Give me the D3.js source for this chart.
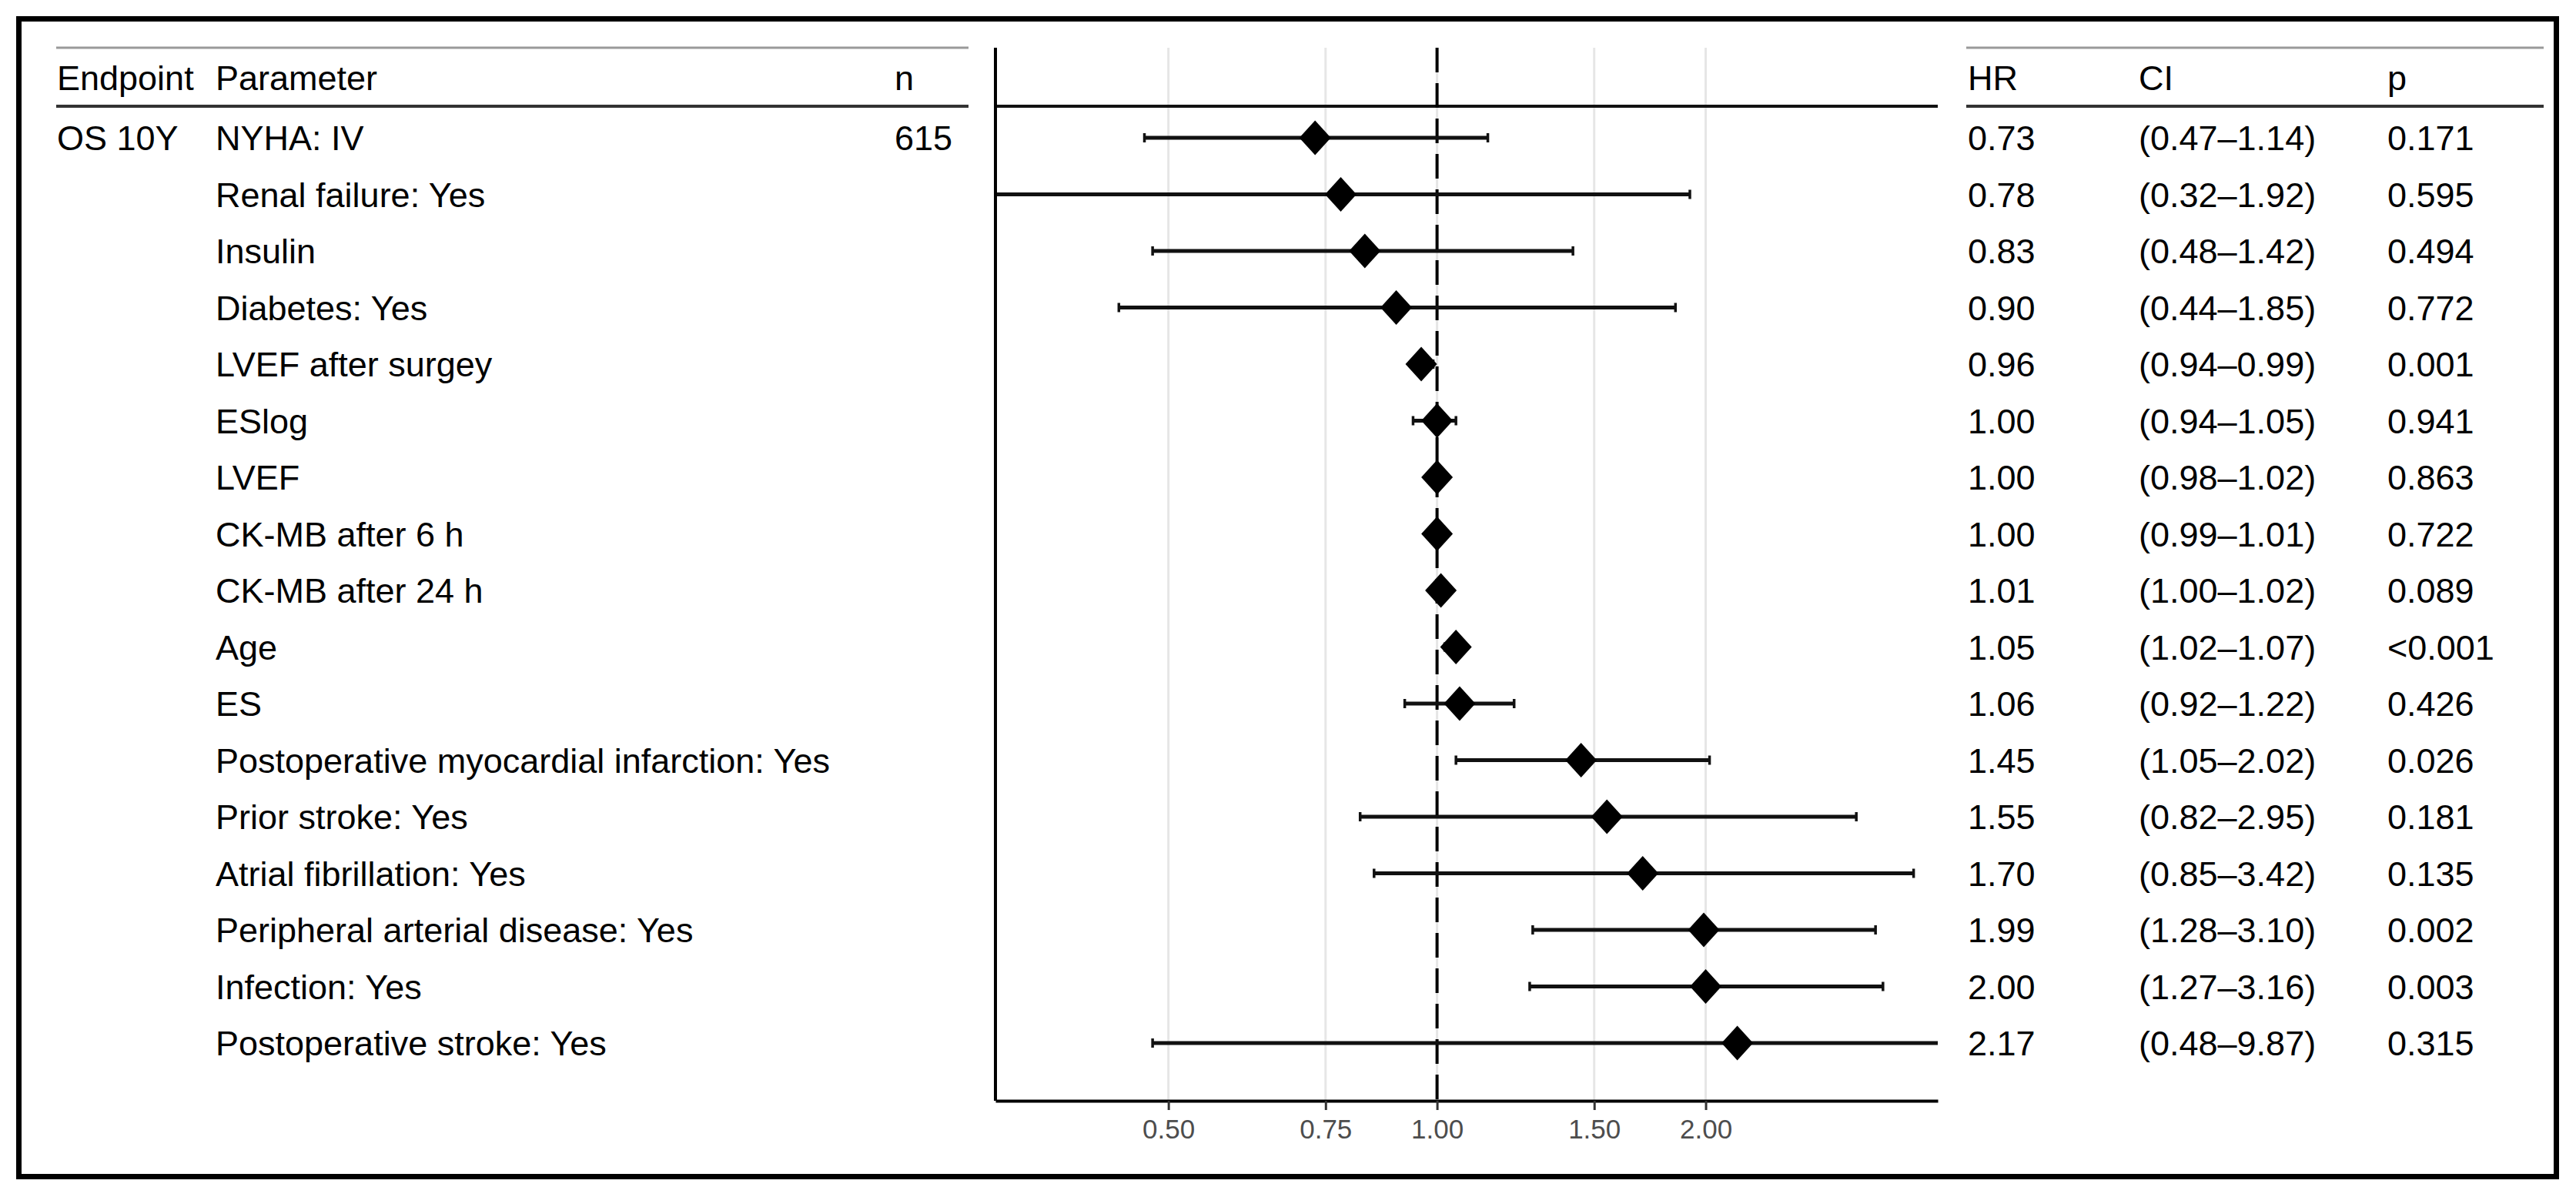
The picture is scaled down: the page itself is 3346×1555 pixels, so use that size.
<!DOCTYPE html>
<html>
<head>
<meta charset="utf-8">
<script src="https://cdnjs.cloudflare.com/ajax/libs/d3/7.8.5/d3.min.js"></script>
<style>
    body { margin: 0; background: #fff; }
    svg text { font-family: "Liberation Sans", Arial, sans-serif; }
</style>
</head>
<body>
<div id="chart"></div>
<script>
    // values
    const endpoints = ["OS 10Y"];
    const nValues = ["615"];
    const params = ["NYHA: IV", "Renal failure: Yes", "Insulin", "Diabetes: Yes", "LVEF after surgey", "ESlog", "LVEF",
        "CK-MB after 6 h", "CK-MB after 24 h", "Age", "ES", "Postoperative myocardial infarction: Yes", "Prior stroke: Yes",
        "Atrial fibrillation: Yes", "Peripheral arterial disease: Yes", "Infection: Yes", "Postoperative stroke: Yes"];
    const hr = [0.73, 0.78, 0.83, 0.90, 0.96, 1.00, 1.00, 1.00, 1.01, 1.05, 1.06, 1.45, 1.55, 1.70, 1.99, 2.00, 2.17];
    const ciLow = [0.47, 0.32, 0.48, 0.44, 0.94, 0.94, 0.98, 0.99, 1.00, 1.02, 0.92, 1.05, 0.82, 0.85, 1.28, 1.27, 0.48];
    const ciHigh = [1.14, 1.92, 1.42, 1.85, 0.99, 1.05, 1.02, 1.01, 1.02, 1.07, 1.22, 2.02, 2.95, 3.42, 3.10, 3.16, 9.87];
    const pValues = ["0.171", "0.595", "0.494", "0.772", "0.001", "0.941", "0.863", "0.722", "0.089", "<0.001", "0.426",
        "0.026", "0.181", "0.135", "0.002", "0.003", "0.315"];
    const xTicks = [0.5, 0.75, 1, 1.5, 2];
    const xLimits = [0.32, 3.64];

    const W = 3346, H = 1555;
    const plotL = 1293, plotR = 2517, plotT = 62, plotB = 1430;
    const headTop = 62, headBot = 138;
    const fs = 45;

    const rows = params.map((p, i) => ({
        param: p, hr: hr[i], lo: ciLow[i], hi: ciHigh[i], p: pValues[i],
        endpoint: endpoints[i] || "", n: nValues[i] || ""
    }));

    const svg = d3.select("#chart").append("svg")
        .attr("width", W).attr("height", H)
        .style("display", "block");

    const x = d3.scaleLog().domain(xLimits).range([plotL, plotR]);
    const y = d3.scalePoint().domain(params).range([179, 1355]);

    // frame round the whole figure
    svg.append("rect")
        .attr("x", 24.5).attr("y", 24.5).attr("width", 3296).attr("height", 1504)
        .attr("fill", "none").attr("stroke", "#000").attr("stroke-width", 7);

    // table rules (left and right tables)
    const tables = [[73, 1258], [2554, 3304]];
    tables.forEach(t => {
        svg.append("line").attr("x1", t[0]).attr("x2", t[1]).attr("y1", headTop).attr("y2", headTop)
            .attr("stroke", "#9a9a9a").attr("stroke-width", 3);
        svg.append("line").attr("x1", t[0]).attr("x2", t[1]).attr("y1", headBot).attr("y2", headBot)
            .attr("stroke", "#333").attr("stroke-width", 4);
    });

    // column headers
    const headers = [["Endpoint", 74], ["Parameter", 280], ["n", 1162], ["HR", 2556], ["CI", 2778], ["p", 3101]];
    svg.selectAll("text.head").data(headers).enter()
        .append("text").attr("class", "head")
        .attr("x", h => h[1]).attr("y", 117)
        .attr("font-size", fs).attr("fill", "#000")
        .text(h => h[0]);

    // table cells
    const cols = [
        [74, d => d.endpoint],
        [280, d => d.param],
        [1162, d => d.n],
        [2556, d => d.hr.toFixed(2)],
        [2778, d => "(" + d.lo.toFixed(2) + "\u2013" + d.hi.toFixed(2) + ")"],
        [3101, d => d.p]
    ];
    cols.forEach(c => {
        svg.append("g").selectAll("text").data(rows).enter()
            .append("text")
            .attr("x", c[0]).attr("y", d => y(d.param) + 16)
            .attr("font-size", fs).attr("fill", "#000")
            .text(c[1]);
    });

    // plot panel
    const plot = svg.append("g");
    svg.append("clipPath").attr("id", "clip")
        .append("rect").attr("x", plotL).attr("y", plotT).attr("width", plotR - plotL).attr("height", plotB - plotT);

    plot.selectAll("line.grid").data(xTicks).enter()
        .append("line").attr("class", "grid")
        .attr("x1", d => x(d)).attr("x2", d => x(d)).attr("y1", plotT).attr("y2", plotB)
        .attr("stroke", "#e6e6e6").attr("stroke-width", 3);

    // header rule crosses the plot too
    plot.append("line").attr("x1", plotL).attr("x2", plotR).attr("y1", headBot).attr("y2", headBot)
        .attr("stroke", "#111").attr("stroke-width", 4);

    plot.append("line")
        .attr("x1", x(1)).attr("x2", x(1)).attr("y1", plotT).attr("y2", plotB)
        .attr("stroke", "#000").attr("stroke-width", 4).attr("stroke-dasharray", "32,14");

    const ci = plot.append("g").attr("clip-path", "url(#clip)");
    ci.selectAll("line.ci").data(rows).enter()
        .append("line").attr("class", "ci")
        .attr("x1", d => x(d.lo)).attr("x2", d => x(d.hi))
        .attr("y1", d => y(d.param)).attr("y2", d => y(d.param))
        .attr("stroke", "#111").attr("stroke-width", 5);
    ["lo", "hi"].forEach(k => {
        ci.selectAll("line.cap-" + k).data(rows).enter()
            .append("line").attr("class", "cap-" + k)
            .attr("x1", d => x(d[k])).attr("x2", d => x(d[k]))
            .attr("y1", d => y(d.param) - 6).attr("y2", d => y(d.param) + 6)
            .attr("stroke", "#111").attr("stroke-width", 3.5);
    });

    plot.selectAll("path.pt").data(rows).enter()
        .append("path").attr("class", "pt")
        .attr("d", "M0,-22.5L20.5,0L0,22.5L-20.5,0Z")
        .attr("transform", d => `translate(${x(d.hr)},${y(d.param)})`)
        .attr("fill", "#000");

    // axes
    plot.append("line").attr("x1", plotL).attr("x2", plotL).attr("y1", plotT).attr("y2", plotB)
        .attr("stroke", "#000").attr("stroke-width", 4);

    const xAxis = plot.append("g")
        .attr("transform", `translate(0,${plotB})`)
        .call(d3.axisBottom(x).tickValues(xTicks).tickFormat(d3.format(".2f")).tickSize(12).tickSizeOuter(0).tickPadding(12));
    xAxis.select(".domain").attr("stroke", "#000").attr("stroke-width", 4);
    xAxis.selectAll(".tick line").attr("stroke", "#333").attr("stroke-width", 3);
    xAxis.selectAll(".tick text")
        .attr("font-family", "Liberation Sans, Arial, sans-serif")
        .attr("font-size", 35).attr("fill", "#4d4d4d");
</script>
</body>
</html>
